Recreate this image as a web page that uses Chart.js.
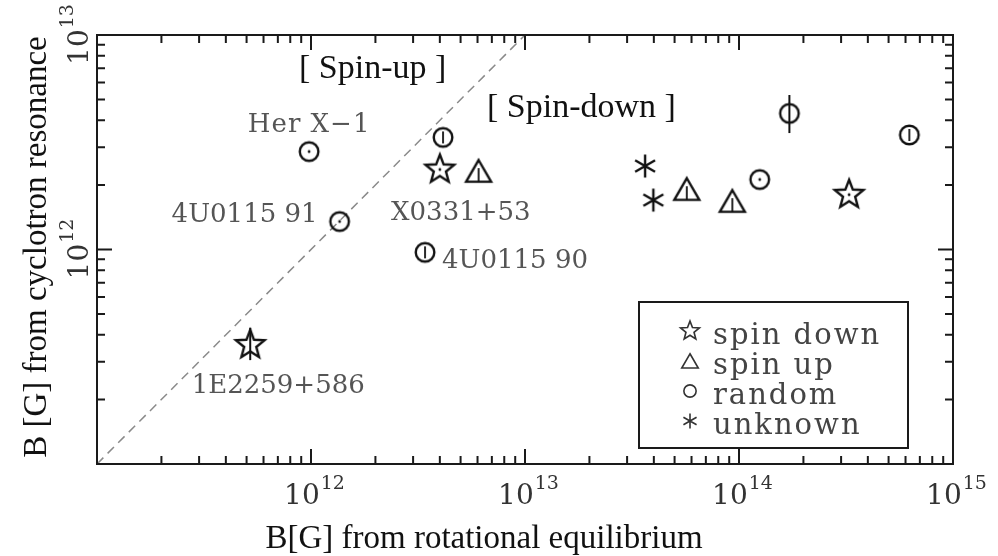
<!DOCTYPE html>
<html>
<head>
<meta charset="utf-8">
<script src="https://cdn.jsdelivr.net/npm/chart.js@4/dist/chart.umd.min.js"></script>
<style>
  html, body { margin: 0; padding: 0; background: #fff; }
  #wrap { width: 998px; height: 556px; }
</style>
</head>
<body>
<div id="wrap"><canvas id="chart" width="998" height="556"></canvas></div>
<script>
// Pulsar magnetic fields: rotational-equilibrium estimate (x) vs cyclotron-line estimate (y)

// spin down sources
const spinDownX = [5.2e11, 4.0e12, 3.27e14];
const spinDownY = [3.59e11, 2.36e12, 1.80e12];
const spinDownMark = ['none', 'dot', 'dot'];
const spinDownErrLo = [3.05e11, null, null];
const spinDownErrHi = [4.31e11, null, null];

// spin up sources
const spinUpX = [6.07e12, 5.70e13, 9.31e13];
const spinUpY = [2.32e12, 1.91e12, 1.68e12];
const spinUpMark = ['bar', 'bar', 'bar'];

// random (no secular trend) sources
const randomX = [9.8e11, 1.36e12, 3.41e12, 4.14e12, 1.25e14, 1.72e14, 6.25e14];
const randomY = [2.86e12, 1.35e12, 9.7e11, 3.33e12, 2.12e12, 4.31e12, 3.42e12];
const randomMark = ['dot', 'dot', 'bar', 'bar', 'dot', 'none', 'bar'];
const randomErrLo = [null, null, null, null, null, 3.49e12, null];
const randomErrHi = [null, null, null, null, null, 5.25e12, null];

// sources of unknown behaviour
const unknownX = [3.64e13, 3.98e13];
const unknownY = [2.45e12, 1.70e12];

// equality line B_rot = B_cyc
const equalityX = [1e11, 1e13];
const equalityY = [1e11, 1e13];

// axis decades and labelled exponents
const xDecades = [11, 12, 13, 14];
const yDecades = [11, 12];
const xLabelExponents = [12, 13, 14, 15];
const yLabelExponents = [12, 13];

// named sources: [series index, point index, name]
const sourceNames = [
  [2, 0, 'Her X\u22121'],
  [2, 1, '4U0115 91'],
  [0, 1, 'X0331+53'],
  [2, 2, '4U0115 90'],
  [0, 0, '1E2259+586']
];

const seriesLabels = ['spin down', 'spin up', 'random', 'unknown'];
const seriesShapes = ['star', 'triangle', 'circle', 'asterisk'];

// placement of each source name relative to its marker
const nameStyle = {
  'Her X\u22121': { dx: 0, dy: -20, align: 'center', spacing: 1 },
  '4U0115 91': { dx: -22, dy: 0, align: 'right', spacing: 0 },
  'X0331+53': { dx: 21, dy: 50, align: 'center', spacing: 0 },
  '4U0115 90': { dx: 17, dy: 16, align: 'left', spacing: 0 },
  '1E2259+586': { dx: 28, dy: 48, align: 'center', spacing: 0 }
};

const INK = '#111';
const SERIF = '"DejaVu Serif", serif';
const TIMES = '"Liberation Serif", "Times New Roman", serif';

function markerCanvas(shape, mark, scale, lw, color) {
  const S = Math.ceil(44 * scale) + 4;
  const c = document.createElement('canvas');
  c.width = S; c.height = S;
  const g = c.getContext('2d');
  g.translate(S / 2, S / 2);
  g.scale(scale, scale);
  g.strokeStyle = color; g.fillStyle = color;
  g.lineWidth = lw / scale;
  g.lineJoin = 'miter';
  g.lineCap = 'butt';
  g.beginPath();
  if (shape === 'star') {
    const R = 15, r = 6.4;
    for (let i = 0; i < 10; i++) {
      const a = -Math.PI / 2 + i * Math.PI / 5;
      const rr = i % 2 ? r : R;
      g.lineTo(rr * Math.cos(a), rr * Math.sin(a));
    }
    g.closePath(); g.stroke();
  } else if (shape === 'triangle') {
    g.moveTo(0, -11); g.lineTo(12.5, 10.6); g.lineTo(-12.5, 10.6);
    g.closePath(); g.stroke();
  } else if (shape === 'circle') {
    g.arc(0, 0, 9.3, 0, Math.PI * 2); g.stroke();
  } else if (shape === 'asterisk') {
    for (const deg of [90, 30, 150]) {
      const a = deg * Math.PI / 180;
      g.moveTo(-11.5 * Math.cos(a), -11.5 * Math.sin(a));
      g.lineTo(11.5 * Math.cos(a), 11.5 * Math.sin(a));
    }
    g.stroke();
  }
  g.beginPath();
  if (mark === 'dot') {
    g.arc(0, 0, 1.4, 0, Math.PI * 2); g.fill();
  } else if (mark === 'bar') {
    g.lineWidth = 1.8 / scale;
    if (shape === 'triangle') { g.moveTo(0, -3); g.lineTo(0, 10.6); }
    else { g.moveTo(0, -6); g.lineTo(0, 6); }
    g.stroke();
  }
  return c;
}

function styles(shape, marks, n) {
  const out = [];
  for (let i = 0; i < n; i++) out.push(markerCanvas(shape, marks ? marks[i] : 'none', 1, 2.4, INK));
  return out;
}

function points(xs, ys) { return xs.map((x, i) => ({ x: x, y: ys[i] })); }

const datasets = [
  { label: seriesLabels[0], data: points(spinDownX, spinDownY), pointStyle: styles('star', spinDownMark, spinDownX.length),
    errLo: spinDownErrLo, errHi: spinDownErrHi },
  { label: seriesLabels[1], data: points(spinUpX, spinUpY), pointStyle: styles('triangle', spinUpMark, spinUpX.length) },
  { label: seriesLabels[2], data: points(randomX, randomY), pointStyle: styles('circle', randomMark, randomX.length),
    errLo: randomErrLo, errHi: randomErrHi },
  { label: seriesLabels[3], data: points(unknownX, unknownY), pointStyle: styles('asterisk', null, unknownX.length) },
  { label: 'equality', data: points(equalityX, equalityY), showLine: true, pointRadius: 0,
    borderColor: '#8a8a8a', borderWidth: 1.5, borderDash: [9, 6], order: 10 }
];
datasets.slice(0, 4).forEach(d => { d.pointRadius = 10; d.order = 1; });

function powerLabel(g, exp, x, y, rotate) {
  g.save();
  g.translate(x, y);
  if (rotate) g.rotate(-Math.PI / 2);
  g.fillStyle = '#333';
  g.textAlign = 'left'; g.textBaseline = 'alphabetic';
  g.font = '28px ' + SERIF;
  const w1 = g.measureText('10').width;
  g.font = '19px ' + SERIF;
  const w2 = g.measureText(String(exp)).width;
  const start = -(w1 + w2) / 2;
  g.font = '28px ' + SERIF;
  g.fillText('10', start, 0);
  g.font = '19px ' + SERIF;
  g.fillText(String(exp), start + w1 + 1, -15);
  g.restore();
}

const framePlugin = {
  id: 'frame',
  afterDraw(chart) {
    const g = chart.ctx, a = chart.chartArea;
    const xs = chart.scales.x, ys = chart.scales.y;
    g.save();
    // error bars
    g.strokeStyle = INK; g.lineWidth = 2;
    chart.data.datasets.forEach(d => {
      if (!d.errLo) return;
      d.data.forEach((p, i) => {
        if (d.errLo[i] == null) return;
        const px = xs.getPixelForValue(p.x);
        g.beginPath();
        g.moveTo(px, ys.getPixelForValue(d.errLo[i]));
        g.lineTo(px, ys.getPixelForValue(d.errHi[i]));
        g.stroke();
      });
    });
    // inward tick marks on all four sides
    g.strokeStyle = '#1a1a1a'; g.lineWidth = 2;
    const major = 15, minor = 8;
    xDecades.forEach(e => {
      for (let k = 1; k <= 9; k++) {
        const px = xs.getPixelForValue(k * Math.pow(10, e));
        const len = k === 1 ? major : minor;
        g.beginPath();
        g.moveTo(px, a.bottom); g.lineTo(px, a.bottom - len);
        g.moveTo(px, a.top); g.lineTo(px, a.top + len);
        g.stroke();
      }
    });
    yDecades.forEach(e => {
      for (let k = 1; k <= 9; k++) {
        const py = ys.getPixelForValue(k * Math.pow(10, e));
        const len = k === 1 ? major : minor;
        g.beginPath();
        g.moveTo(a.left, py); g.lineTo(a.left + len, py);
        g.moveTo(a.right, py); g.lineTo(a.right - len, py);
        g.stroke();
      }
    });
    // frame
    g.strokeStyle = '#1a1a1a'; g.lineWidth = 2;
    g.strokeRect(a.left, a.top, a.right - a.left, a.bottom - a.top);

    // tick labels
    xLabelExponents.forEach(e => powerLabel(g, e, xs.getPixelForValue(Math.pow(10, e)) + 3, 504, false));
    yLabelExponents.forEach(e => powerLabel(g, e, 88, ys.getPixelForValue(Math.pow(10, e)), true));

    // axis titles
    g.fillStyle = '#111';
    g.font = '33px ' + TIMES;
    g.textAlign = 'center'; g.textBaseline = 'alphabetic';
    g.fillText('B[G] from rotational equilibrium', 484, 548);
    g.save();
    g.translate(46, 247); g.rotate(-Math.PI / 2);
    g.fillText('B [G] from cyclotron resonance', 0, 0);
    g.restore();

    // region captions
    g.font = '34px ' + TIMES;
    g.textAlign = 'left';
    g.fillText('[ Spin-up ]', 299, 78);
    g.fillText('[ Spin-down ]', 487, 117);

    // source names
    g.fillStyle = '#555';
    g.font = '26px ' + SERIF;
    sourceNames.forEach(([s, i, name]) => {
      const p = chart.data.datasets[s].data[i];
      const st = nameStyle[name];
      g.textAlign = st.align;
      g.letterSpacing = st.spacing + 'px';
      g.fillText(name, xs.getPixelForValue(p.x) + st.dx, ys.getPixelForValue(p.y) + st.dy);
    });

    // legend box
    const box = { l: 639, t: 302, r: 908, b: 448 };
    g.strokeStyle = '#1a1a1a'; g.lineWidth = 2;
    g.strokeRect(box.l, box.t, box.r - box.l, box.b - box.t);
    g.font = '29px ' + SERIF;
    g.letterSpacing = '2px';
    g.fillStyle = '#444';
    g.textAlign = 'left';
    seriesLabels.forEach((lab, i) => {
      const base = 344 + i * 30;
      const sym = markerCanvas(seriesShapes[i], 'none', 0.66, 1.6, '#333');
      g.drawImage(sym, 690 - sym.width / 2, base - 13 - sym.height / 2);
      g.fillText(lab, 713, base);
    });
    g.restore();
  }
};

new Chart(document.getElementById('chart'), {
  type: 'scatter',
  data: { datasets: datasets },
  options: {
    responsive: false,
    animation: false,
    devicePixelRatio: 1,
    layout: { padding: { left: 97, right: 45, top: 35, bottom: 92 } },
    scales: {
      x: { type: 'logarithmic', min: 1e11, max: 1e15, display: false },
      y: { type: 'logarithmic', min: 1e11, max: 1e13, display: false }
    },
    plugins: { legend: { display: false }, tooltip: { enabled: false } }
  },
  plugins: [framePlugin]
});
</script>
</body>
</html>
